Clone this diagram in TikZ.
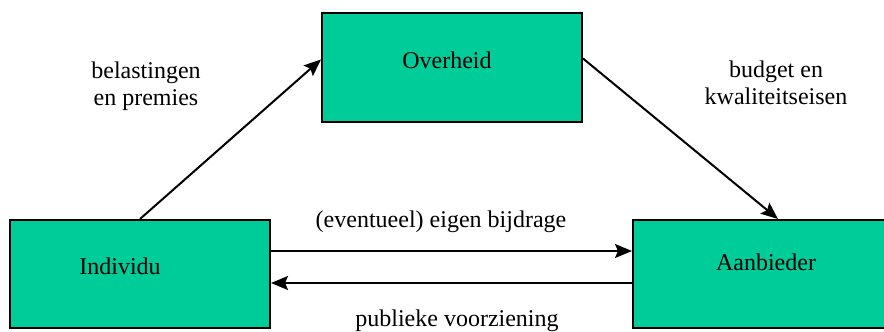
\documentclass[tikz,border=0pt]{standalone}
\usepackage{fontspec}
\setmainfont{Liberation Serif}
\usetikzlibrary{arrows.meta}
\definecolor{boxfill}{RGB}{0,204,153}
\begin{document}
\begin{tikzpicture}[x=1pt,y=-1pt,
  box/.style={draw=black,line width=2pt,fill=boxfill,minimum width=#1,minimum height=108pt,inner sep=0pt},
  txt/.style={font=\fontsize{24}{27}\selectfont,inner sep=0pt,align=center},
  conn/.style={line width=2pt,-{Stealth[length=17pt,width=14pt,inset=3pt]}}]
\useasboundingbox (0,0) rectangle (884,332);
\node[box=260pt] (ind) at (140,274) {};
\node[box=260pt,minimum height=109pt] (ove) at (452,67.5) {};
\node[box=253pt] (aan) at (759.5,274) {};
\node[txt,anchor=base] (tind) at (120,274) {Individu};
\node[txt,anchor=base] (tove) at (447,68) {Overheid};
\node[txt,anchor=base] (taan) at (766,270) {Aanbieder};
\node[txt,anchor=base] (lbel) at (146,105) {belastingen\\en premies};
\node[txt,anchor=base] (lbud) at (776,104) {budget en\\kwaliteitseisen};
\node[txt,anchor=base] (leig) at (441,227) {(eventueel) eigen bijdrage};
\node[txt,anchor=base] (lpub) at (457,326) {publieke voorziening};
\draw[conn] (ind.north) -- ([yshift=8pt]ove.west);
\draw[conn] ([yshift=9pt]ove.east) -- ([xshift=18.5pt]aan.north);
\draw[conn] ([yshift=23pt]ind.east) -- ([yshift=23pt]aan.west);
\draw[conn] ([yshift=-9pt]aan.west) -- ([yshift=-9pt]ind.east);
\end{tikzpicture}
\end{document}
